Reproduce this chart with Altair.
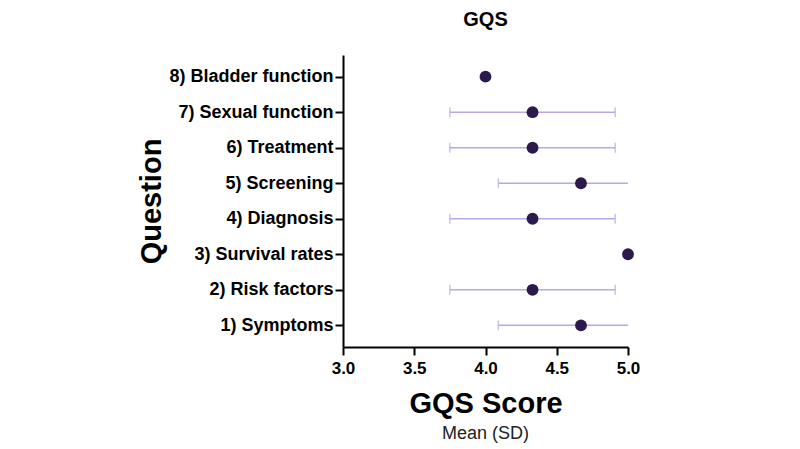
import altair as alt
import pandas as pd

questions = ["1) Symptoms", "2) Risk factors", "3) Survival rates", "4) Diagnosis",
             "5) Screening", "6) Treatment", "7) Sexual function", "8) Bladder function"]
means = [4.67, 4.33, 5.0, 4.33, 4.67, 4.33, 4.33, 4.0]
sds = [0.58, 0.58, 0.0, 0.58, 0.58, 0.58, 0.58, 0.0]
x_ticks = [3.0, 3.5, 4.0, 4.5, 5.0]

df = pd.DataFrame({"question": questions, "mean": means, "sd": sds})
order = list(reversed(questions))

FONT = "Liberation Sans"
DOT = "#2c1a4d"
BAR = "#b9a7e8"

x_scale = alt.Scale(domain=[3.0, 5.0], nice=False, zero=False)
y_scale = alt.Scale(type="point", domain=order, padding=0.61)

x_axis = alt.Axis(
    title="GQS Score", values=x_ticks, format=".1f", grid=False, labelFlush=False,
    domainColor="black", domainWidth=2, tickColor="black", tickWidth=2, tickSize=8,
    labelFont=FONT, labelFontSize=17, labelFontWeight="bold", labelColor="black",
    labelPadding=5, titleFont=FONT, titleFontSize=29, titleFontWeight="bold",
    titleColor="black", titlePadding=13,
)
y_axis = alt.Axis(
    title="Question", grid=False,
    domainColor="black", domainWidth=2, tickColor="black", tickWidth=2, tickSize=8,
    labelFont=FONT, labelFontSize=18, labelFontWeight="bold", labelColor="black",
    labelPadding=2, titleFont=FONT, titleFontSize=29, titleFontWeight="bold",
    titleColor="black", titlePadding=2,
)

base = alt.Chart(df).transform_calculate(
    lo="datum.mean - datum.sd", hi="datum.mean + datum.sd"
)

err = base.transform_filter("datum.sd > 0")

rule = err.mark_rule(color=BAR, strokeWidth=1.5, clip=True).encode(
    x=alt.X("lo:Q", scale=x_scale, axis=x_axis),
    x2="hi:Q",
    y=alt.Y("question:N", scale=y_scale, axis=y_axis, sort=order),
)
cap_lo = err.mark_tick(color=BAR, thickness=1.5, size=10, clip=True).encode(
    x=alt.X("lo:Q", scale=x_scale),
    y=alt.Y("question:N", scale=y_scale, sort=order),
)
cap_hi = err.mark_tick(color=BAR, thickness=1.5, size=10, clip=True).encode(
    x=alt.X("hi:Q", scale=x_scale),
    y=alt.Y("question:N", scale=y_scale, sort=order),
)
dots = base.mark_circle(color=DOT, size=140, opacity=1).encode(
    x=alt.X("mean:Q", scale=x_scale),
    y=alt.Y("question:N", scale=y_scale, sort=order),
)

note = alt.Chart(pd.DataFrame({"t": ["Mean (SD)"]})).mark_text(
    font=FONT, fontSize=18, color="#222222", baseline="middle", align="center"
).encode(text="t:N", x=alt.value(142.5), y=alt.value(379))

chart = alt.layer(rule, cap_lo, cap_hi, dots, note).properties(
    width=285, height=292,
    title=alt.TitleParams("GQS", font=FONT, fontSize=20, fontWeight="bold",
                          color="black", offset=25, anchor="middle"),
    autosize=alt.AutoSizeParams(type="none"),
    padding={"left": 335, "top": 47, "right": 150, "bottom": 100},
).configure_view(stroke=None)

chart.save("out.html", embed_options={"renderer": "svg", "actions": False})
